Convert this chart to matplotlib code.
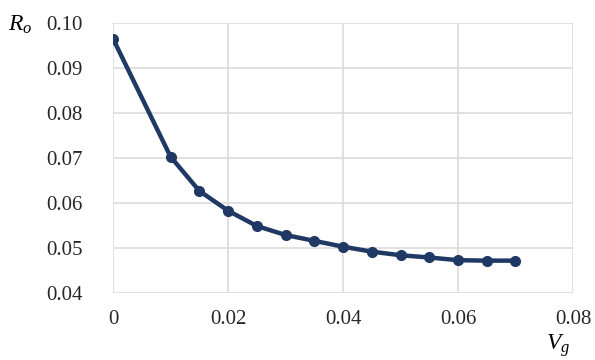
import matplotlib
matplotlib.use('Agg')
import matplotlib.pyplot as plt

vg = [0, 0.01, 0.015, 0.02, 0.025, 0.03, 0.035, 0.04, 0.045, 0.05, 0.055, 0.06, 0.065, 0.07]
ro = [0.0965, 0.0703, 0.0627, 0.0583, 0.0549, 0.0529, 0.0516, 0.0503, 0.0492, 0.0484, 0.0479, 0.0473, 0.0472, 0.0472]
xticks = [0, 0.02, 0.04, 0.06, 0.08]
xtick_labels = ['0', '0.02', '0.04', '0.06', '0.08']
yticks = [0.04, 0.05, 0.06, 0.07, 0.08, 0.09, 0.10]
ytick_labels = ['0.04', '0.05', '0.06', '0.07', '0.08', '0.09', '0.10']

plt.rcParams['font.family'] = 'Liberation Serif'
plt.rcParams['mathtext.fontset'] = 'custom'
plt.rcParams['mathtext.rm'] = 'Liberation Serif'
plt.rcParams['mathtext.it'] = 'Liberation Serif:italic'

fig = plt.figure(figsize=(5.95, 3.6), dpi=100)
ax = fig.add_axes([0.19, 0.186, 0.773, 0.75])

ax.plot(vg, ro, '-o', color='#1F3864', lw=3.2, markersize=7, zorder=3)

ax.set_xlim(0, 0.08)
ax.set_ylim(0.04, 0.10)
ax.set_xticks(xticks)
ax.set_xticklabels(xtick_labels)
ax.set_yticks(yticks)
ax.set_yticklabels(ytick_labels)
ax.tick_params(length=0, labelsize=15, colors='#262626')
ax.tick_params(axis='x', pad=12)
ax.tick_params(axis='y', pad=22)
ax.grid(True, color='#D9D9D9', lw=1.1)
ax.set_axisbelow(True)
for s in ax.spines.values():
    s.set_visible(False)

fig.text(0.014, 0.93, r'$R_o$', fontsize=17, ha='left', va='center')
fig.text(0.918, 0.04, r'$V_g$', fontsize=17, ha='left', va='center')

fig.savefig('out.png', dpi=100)
